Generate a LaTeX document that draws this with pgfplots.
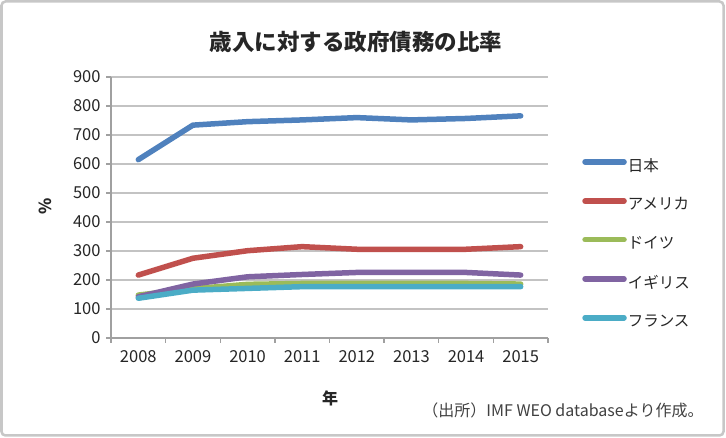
\documentclass[border=0pt]{standalone}
\usepackage{fontspec}
\setmainfont{Noto Sans CJK JP}
\usepackage{pgfplots}
\pgfplotsset{compat=1.18}

\definecolor{cJP}{HTML}{4F81BD}
\definecolor{cUS}{HTML}{C0504D}
\definecolor{cDE}{HTML}{9BBB59}
\definecolor{cUK}{HTML}{8064A2}
\definecolor{cFR}{HTML}{4BACC6}
\definecolor{gridc}{RGB}{195,195,195}
\definecolor{axc}{RGB}{160,160,160}

\begin{document}
\begin{tikzpicture}[x=1bp,y=1bp]
\useasboundingbox (0,0) rectangle (726,438);
\draw[rounded corners=4bp, draw=black!22, line width=2.5bp] (1.5,2.5) rectangle (723.5,436.5);
\coordinate (origin) at (111,100);

\node[font=\fontsize{22.5bp}{25bp}\selectfont\bfseries, text=black!85] at (356,396) {歳入に対する政府債務の比率};

\begin{axis}[
  at={(origin)}, anchor=south west,
  width=437bp, height=261bp, scale only axis,
  xmin=-0.5, xmax=7.5, ymin=0, ymax=900,
  axis x line*=bottom, axis y line*=left,
  axis line style={draw=axc, line width=1.3bp},
  xtick={0,...,7},
  xticklabels={2008,2009,2010,2011,2012,2013,2014,2015},
  major x tick style={draw=none},
  minor xtick={-0.5,0.5,...,7.5},
  minor x tick style={draw=axc, line width=1.3bp},
  ytick={0,100,...,900},
  y tick style={draw=axc, line width=1.3bp},
  tick align=outside,
  major tick length=5bp, minor tick length=5bp,
  ymajorgrids,
  grid style={draw=gridc, line width=1.8bp},
  ticklabel style={font=\fontsize{16.5bp}{19bp}\selectfont, text=black!85},
  /pgf/number format/assume math mode=true,
  xticklabel style={yshift=-4bp},
  yticklabel style={xshift=-2bp},
  every axis plot/.append style={line width=5.5bp, line cap=round, line join=round},
  legend style={draw=none, fill=none, at={(axis description cs:1.078,0.364)}, anchor=west,
    inner sep=0pt, row sep=23bp,
    nodes={inner sep=1bp, font=\fontsize{15.5bp}{18bp}\selectfont, text=black!85}},
  legend cell align=left,
  legend image code/.code={\draw[#1, line width=5.5bp, line cap=round] (3bp,0.35em) -- (42bp,0.35em);},
]
\addplot[cJP] coordinates {(0,615) (1,734) (2,746) (3,752) (4,760) (5,752) (6,757) (7,766)};
\addlegendentry{日本}
\addplot[cUS] coordinates {(0,217) (1,275) (2,301) (3,315) (4,306) (5,306) (6,306) (7,315)};
\addlegendentry{アメリカ}
\addplot[cDE] coordinates {(0,148) (1,170) (2,185) (3,188) (4,188) (5,188) (6,188) (7,186)};
\addlegendentry{ドイツ}
\addplot[cUK] coordinates {(0,142) (1,186) (2,211) (3,219) (4,226) (5,226) (6,226) (7,217)};
\addlegendentry{イギリス}
\addplot[cFR] coordinates {(0,137) (1,165) (2,171) (3,177) (4,177) (5,177) (6,177) (7,177)};
\addlegendentry{フランス}
\end{axis}

\node[rotate=90, font=\fontsize{16.5bp}{18bp}\selectfont\bfseries, text=black!85] at (45,232) {\%};
\node[font=\fontsize{16bp}{18bp}\selectfont\bfseries, text=black!85] at (330,40) {年};
\node[anchor=east, font=\fontsize{16bp}{18bp}\selectfont, text=black!75] at (707,28) {（出所）IMF WEO databaseより作成。};
\end{tikzpicture}
\end{document}
